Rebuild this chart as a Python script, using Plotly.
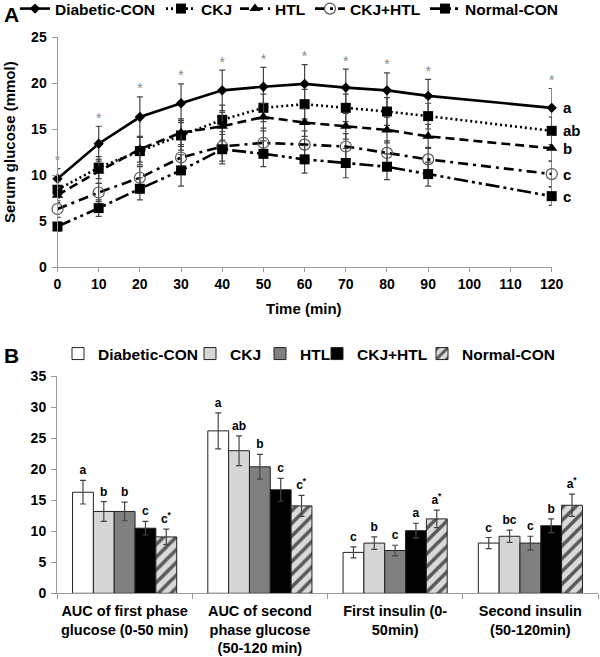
import plotly.graph_objects as go

# ---------------- Panel A data ----------------
times = [0, 10, 20, 30, 40, 50, 60, 70, 80, 90, 120]
diabetic = [9.6, 13.4, 16.3, 17.8, 19.2, 19.6, 19.9, 19.5, 19.2, 18.6, 17.3]
diabetic_err = [1.1, 1.9, 2.2, 2.1, 2.2, 2.1, 2.1, 2.0, 1.9, 1.8, 2.1]
ckj = [8.4, 10.8, 12.6, 14.3, 16.0, 17.3, 17.7, 17.3, 16.9, 16.4, 14.8]
ckj_err = [0.9, 1.2, 1.5, 1.6, 1.6, 1.5, 1.6, 1.5, 1.5, 1.4, 1.5]
htl = [7.8, 10.4, 12.8, 14.6, 15.3, 16.3, 15.7, 15.3, 14.9, 14.2, 12.9]
htl_err = [0.8, 1.3, 1.4, 1.5, 1.5, 1.5, 1.5, 1.4, 1.4, 1.3, 1.4]
ckj_htl = [6.3, 8.1, 9.7, 11.9, 13.1, 13.5, 13.3, 13.1, 12.4, 11.7, 10.1]
ckj_htl_err = [0.9, 1.0, 1.2, 1.4, 1.6, 1.6, 1.5, 1.4, 1.3, 1.3, 1.4]
normal = [4.4, 6.4, 8.5, 10.5, 12.8, 12.3, 11.7, 11.3, 10.9, 10.1, 7.7]
normal_err = [0.5, 0.9, 1.2, 1.7, 1.6, 1.4, 1.5, 1.6, 1.4, 1.3, 1.0]
end_letters = ["a", "ab", "b", "c", "c"]
a_ticks = [0, 10, 20, 30, 40, 50, 60, 70, 80, 90, 100, 110, 120]

# ---------------- Panel B data ----------------
b_categories = ["AUC of first phase<br>glucose (0-50 min)",
                "AUC of second<br>phase glucose<br>(50-120 min)",
                "First insulin (0-<br>50min)",
                "Second insulin<br>(50-120min)"]
b_diabetic = [16.3, 26.2, 6.6, 8.1]
b_diabetic_err = [1.9, 2.9, 0.9, 0.9]
b_ckj = [13.2, 23.0, 8.1, 9.2]
b_ckj_err = [1.6, 2.4, 1.0, 1.0]
b_htl = [13.2, 20.4, 6.9, 8.1]
b_htl_err = [1.5, 2.0, 0.85, 1.1]
b_ckj_htl = [10.5, 16.7, 10.1, 10.9]
b_ckj_htl_err = [1.1, 1.85, 1.2, 1.1]
b_normal = [9.1, 14.1, 12.0, 14.2]
b_normal_err = [1.25, 1.7, 1.4, 1.8]
b_letters_diabetic = ["a", "a", "c", "c"]
b_letters_ckj = ["b", "ab", "b", "bc"]
b_letters_htl = ["b", "b", "c", "c"]
b_letters_ckj_htl = ["c", "c", "a", "b"]
b_letters_normal = ["c<sup>*</sup>", "c<sup>*</sup>", "a<sup>*</sup>", "a<sup>*</sup>"]

FONT = "Liberation Sans, Arial, sans-serif"
W, H = 600, 657
LEG_FS = 15.5

fig = go.Figure()

def err(arr):
    return dict(type="data", array=arr, visible=True, color="#444444", thickness=1.2, width=3)

# legend text start positions (px) for panel A and B items
legA_text_x = [57, 203, 277, 352, 467]
legB_text_x = [100, 232, 302, 359, 464]
TEXT_OFF = 42

series_a = [
    ("Diabetic-CON", diabetic, diabetic_err, "solid", dict(symbol="diamond", size=8, color="black")),
    ("CKJ", ckj, ckj_err, "2px,3px", dict(symbol="square", size=10, color="black")),
    ("HTL", htl, htl_err, "9px,5px", dict(symbol="triangle-up", size=10, color="black")),
    ("CKJ+HTL", ckj_htl, ckj_htl_err, "10px,5px,3px,5px",
     dict(symbol="circle-open", size=11, color="#555555", line=dict(width=1.2, color="#555555"))),
    ("Normal-CON", normal, normal_err, "14px,4px,3px,4px,3px,4px", dict(symbol="square", size=10, color="black")),
]
legends = {}
for i, (name, vals, e, dash, mk) in enumerate(series_a):
    lid = "legend" if i == 0 else f"legend{i + 1}"
    fig.add_trace(go.Scatter(
        x=times, y=vals, name=name, mode="lines+markers",
        line=dict(color="black", width=2.6, dash=dash), marker=mk,
        error_y=err(e), xaxis="x", yaxis="y", legend=lid, cliponaxis=False))
    legends[lid] = dict(x=(legA_text_x[i] - TEXT_OFF) / W, y=1 - 9 / H, xanchor="left", yanchor="middle")

# stars above diabetic error bars
fig.add_trace(go.Scatter(
    x=times, y=[v + e for v, e in zip(diabetic, diabetic_err)], mode="text",
    text=["*"] * len(times), textposition="top center",
    textfont=dict(family=FONT, size=14, color="#888888"),
    showlegend=False, xaxis="x", yaxis="y", cliponaxis=False))

# ---------------- Panel B bars ----------------
series_b = [
    ("Diabetic-CON", b_diabetic, b_diabetic_err, b_letters_diabetic, dict(color="white")),
    ("CKJ", b_ckj, b_ckj_err, b_letters_ckj, dict(color="#d6d6d6")),
    ("HTL", b_htl, b_htl_err, b_letters_htl, dict(color="#808080")),
    ("CKJ+HTL", b_ckj_htl, b_ckj_htl_err, b_letters_ckj_htl, dict(color="black")),
    ("Normal-CON", b_normal, b_normal_err, b_letters_normal,
     dict(color="#cfcfcf", pattern=dict(shape="/", fgcolor="#5a5a5a", bgcolor="#dadada", size=9, solidity=0.4))),
]
for i, (name, vals, e, letters, mk) in enumerate(series_b):
    lid = f"legend{i + 6}"
    mk = dict(mk)
    mk["line"] = dict(color="#222222", width=1)
    fig.add_trace(go.Bar(
        x=b_categories, y=vals, name=name, marker=mk, error_y=err(e),
        offsetgroup=str(i), xaxis="x2", yaxis="y2", legend=lid))
    legends[lid] = dict(x=(legB_text_x[i] - TEXT_OFF) / W, y=1 - 354 / H, xanchor="left", yanchor="middle")
    # invisible bars reaching the error-bar top, carrying the letters
    fig.add_trace(go.Bar(
        x=b_categories, y=[v + d for v, d in zip(vals, e)], offsetgroup=str(i),
        marker=dict(color="rgba(0,0,0,0)", line=dict(width=0)),
        text=letters, textposition="outside", textangle=0,
        textfont=dict(family=FONT, size=12, color="black", weight="bold"),
        showlegend=False, hoverinfo="skip", xaxis="x2", yaxis="y2", cliponaxis=False))

axis_common = dict(showgrid=False, zeroline=False, showline=True, linecolor="#9a9a9a", linewidth=1,
                   ticks="outside", tickcolor="#9a9a9a", ticklen=5, automargin=False,
                   tickfont=dict(family=FONT, size=14, color="black", weight="bold"))

yA0, yA25 = 267, 37
yB0, yB35 = 593.3, 376.3

layout_legends = {}
for lid, pos in legends.items():
    layout_legends[lid] = dict(pos, orientation="h", itemwidth=30, bgcolor="rgba(0,0,0,0)",
                               font=dict(family=FONT, size=LEG_FS, color="black", weight="bold"))

annotations = [
    dict(text="A", x=2 / W, y=1 - 14 / H, xref="paper", yref="paper", xanchor="left", yanchor="middle",
         showarrow=False, font=dict(family=FONT, size=21, color="black", weight="bold")),
    dict(text="B", x=2 / W, y=1 - 355 / H, xref="paper", yref="paper", xanchor="left", yanchor="middle",
         showarrow=False, font=dict(family=FONT, size=21, color="black", weight="bold")),
    dict(text="Serum glucose (mmol)", x=9 / W, y=1 - 142 / H, xref="paper", yref="paper",
         xanchor="center", yanchor="middle", textangle=-90, showarrow=False,
         font=dict(family=FONT, size=15, color="black", weight="bold")),
    dict(text="Time (min)", x=304 / W, y=1 - 308 / H, xref="paper", yref="paper",
         xanchor="center", yanchor="middle", showarrow=False,
         font=dict(family=FONT, size=15, color="black", weight="bold")),
]
# letters at the end of the lines
for lab, s in zip(end_letters, [diabetic, ckj, htl, ckj_htl, normal]):
    annotations.append(dict(text=lab, x=times[-1], y=s[-1], xref="x", yref="y", xanchor="left",
                            yanchor="middle", xshift=9, showarrow=False,
                            font=dict(family=FONT, size=15, color="black", weight="bold")))

fig.update_layout(
    template="none",
    width=W, height=H, margin=dict(l=0, r=0, t=0, b=0, autoexpand=False),
    paper_bgcolor="white", plot_bgcolor="white",
    font=dict(family=FONT, color="black"),
    barmode="group", bargap=0.23, bargroupgap=0,
    xaxis=dict(axis_common, domain=[57.5 / W, 551.7 / W], range=[0, 120], tickvals=a_ticks,
               anchor="y", ticklen=4),
    yaxis=dict(axis_common, domain=[1 - yA0 / H, 1 - yA25 / H], range=[0, 25], dtick=5, anchor="x",
               ticklabelstandoff=2),
    xaxis2=dict(axis_common, domain=[57 / W, 598 / W], anchor="y2", tickson="boundaries", tickangle=0,
                ticklabelstandoff=4,
                tickfont=dict(family=FONT, size=14.5, color="black", weight="bold")),
    yaxis2=dict(axis_common, domain=[1 - yB0 / H, 1 - yB35 / H], range=[0, 35], dtick=5, anchor="x2",
                ticklabelstandoff=2),
    showlegend=True,
    annotations=annotations,
    **layout_legends,
)

fig.write_html("out.html", config={"displayModeBar": False},
               post_script="document.body.style.margin='0';document.body.style.overflow='hidden';")
